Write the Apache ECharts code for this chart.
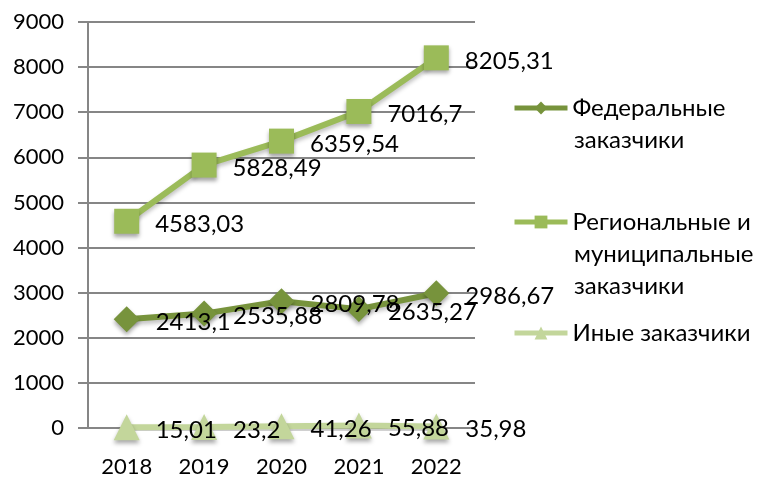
<!DOCTYPE html>
<html>
<head>
<meta charset="utf-8">
<script src="https://cdn.jsdelivr.net/npm/echarts@6/dist/echarts.min.js"></script>
<style>
  html, body { margin: 0; padding: 0; background: #fff; }
  #chart { width: 763px; height: 480px; }
</style>
</head>
<body>
<div id="chart"></div>
<script>
const years = ['2018', '2019', '2020', '2021', '2022'];
const federal = [2413.1, 2535.88, 2809.78, 2635.27, 2986.67];
const regional = [4583.03, 5828.49, 6359.54, 7016.7, 8205.31];
const other = [15.01, 23.2, 41.26, 55.88, 35.98];

const nameFed = 'Федеральные заказчики';
const nameReg = 'Региональные и муниципальные заказчики';
const nameOth = 'Иные заказчики';

const font = 'Lato, "Noto Sans", sans-serif';
const lh = 32;

// decimal comma like the source
function fmt(v) { return String(v).replace('.', ','); }

function makeSeries(name, data, color, symbol, size) {
  return {
    name: name,
    type: 'line',
    data: data,
    symbol: symbol,
    symbolSize: size,
    itemStyle: {
      color: color,
      shadowColor: 'rgba(0,0,0,0.35)',
      shadowBlur: 4,
      shadowOffsetY: 3
    },
    lineStyle: {
      color: color,
      width: 6,
      shadowColor: 'rgba(0,0,0,0.25)',
      shadowBlur: 4,
      shadowOffsetY: 3
    },
    label: {
      show: true,
      position: 'right',
      distance: 16,
      offset: [0, 3],
      color: '#000',
      fontFamily: font,
      fontSize: 24,
      formatter: function (p) { return fmt(p.value); }
    }
  };
}

// legend shows the first line of each name, the rest goes under it
function makeLegend(name, firstLine, top) {
  return {
    data: [name],
    left: 507,
    top: top,
    itemWidth: 53,
    itemHeight: 16,
    lineStyle: { width: 5 },
    itemStyle: { shadowBlur: 0 },
    formatter: function () { return firstLine; },
    textStyle: { fontFamily: font, fontSize: 24, color: '#000', lineHeight: lh }
  };
}

function moreLines(text, y) {
  return {
    type: 'text',
    left: 574,
    top: y,
    style: { text: text, font: '24px ' + font, fill: '#000', lineHeight: lh }
  };
}

const chart = echarts.init(document.getElementById('chart'));
chart.setOption({
  animation: false,
  legend: [
    makeLegend(nameFed, 'Федеральные', 87),
    makeLegend(nameReg, 'Региональные и', 201),
    makeLegend(nameOth, 'Иные заказчики', 312)
  ],
  graphic: [
    moreLines('заказчики', 124),
    moreLines('муниципальные\nзаказчики', 238)
  ],
  grid: { left: 88, right: 288, top: 22, bottom: 52 },
  xAxis: {
    type: 'category',
    data: years,
    axisLine: { lineStyle: { color: '#868686', width: 2 } },
    axisTick: { show: false },
    axisLabel: { color: '#000', fontFamily: font, fontSize: 22, margin: 28 }
  },
  yAxis: {
    type: 'value',
    min: 0,
    max: 9000,
    interval: 1000,
    axisLine: { show: true, lineStyle: { color: '#868686', width: 2 } },
    axisTick: { show: true, length: 10, lineStyle: { color: '#868686', width: 2 } },
    axisLabel: {
      color: '#000', fontFamily: font, fontSize: 22, margin: 24,
      formatter: function (v) { return String(v); }
    },
    splitLine: { lineStyle: { color: '#868686', width: 2 } }
  },
  series: [
    makeSeries(nameFed, federal, '#77933C', 'diamond', 26),
    makeSeries(nameReg, regional, '#9BBB59', 'rect', 25),
    makeSeries(nameOth, other, '#C3D69B', 'triangle', 26)
  ]
});
</script>
</body>
</html>
